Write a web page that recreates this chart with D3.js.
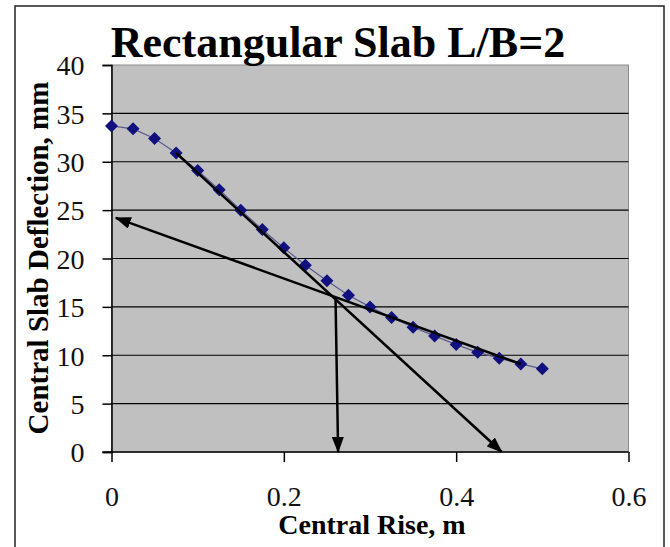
<!DOCTYPE html>
<html>
<head>
<meta charset="utf-8">
<script src="https://cdn.jsdelivr.net/npm/d3@7"></script>
<style>
  body { margin: 0; background: #fff; }
  svg { display: block; }
  text { font-family: "Liberation Serif", "Times New Roman", serif; }
</style>
</head>
<body>
<div id="chart"></div>
<script>
// Central rise (m) and central slab deflection (mm)
var rise = [0, 0.025, 0.05, 0.075, 0.1, 0.125, 0.15, 0.175, 0.2, 0.225, 0.25,
            0.275, 0.3, 0.325, 0.35, 0.375, 0.4, 0.425, 0.45, 0.475, 0.5];
var deflection = [33.7, 33.4, 32.4, 30.9, 29.1, 27.1, 25.0, 23.0, 21.1, 19.3, 17.7,
                  16.2, 15.0, 13.9, 12.9, 12.0, 11.1, 10.3, 9.7, 9.1, 8.6];

// Tangent construction lines drawn on the chart (in data units)
var tangentSteep = [[0.075, 30.9], [0.453, 0]];
var tangentFlat = [[0.475, 9.1], [0.005, 24.2]];
var dropLine = [[0.26, 15.9], [0.263, 0]];

var xTicks = [0, 0.2, 0.4, 0.6];
var yTicks = [0, 5, 10, 15, 20, 25, 30, 35, 40];

var W = 670, H = 547;
var svg = d3.select("#chart").append("svg")
    .attr("width", W)
    .attr("height", H);

var x = d3.scaleLinear().domain([0, 0.6]).range([111.5, 628.5]);
var y = d3.scaleLinear().domain([0, 40]).range([452, 65]);

//Arrowhead marker
svg.append("defs").append("marker")
    .attr("id", "arrow")
    .attr("markerUnits", "userSpaceOnUse")
    .attr("viewBox", "0 0 16 12")
    .attr("refX", 15)
    .attr("refY", 6)
    .attr("markerWidth", 16)
    .attr("markerHeight", 12)
    .attr("orient", "auto")
    .append("path")
    .attr("d", "M0,0 L16,6 L0,12 Z")
    .attr("fill", "#000");

//Outer frame
svg.append("rect")
    .attr("x", 15).attr("y", 6)
    .attr("width", 649).attr("height", 570)
    .attr("fill", "none")
    .attr("stroke", "#222")
    .attr("stroke-width", 1.5);

//Plot area
svg.append("rect")
    .attr("x", x(0)).attr("y", y(40))
    .attr("width", x(0.6) - x(0)).attr("height", y(0) - y(40))
    .attr("fill", "#c0c0c0")
    .attr("stroke", "#8c8c8c")
    .attr("stroke-width", 1);

//Gridlines
svg.append("g")
    .selectAll("line")
    .data(yTicks.filter(function (d) { return d > 0 && d < 40; }))
    .enter().append("line")
    .attr("x1", x(0)).attr("x2", x(0.6))
    .attr("y1", function (d) { return y(d); })
    .attr("y2", function (d) { return y(d); })
    .attr("stroke", "#000")
    .attr("stroke-width", 1.2);

//Axes
var yAxis = svg.append("g")
    .attr("transform", "translate(" + x(0) + ",0)")
    .call(d3.axisLeft(y).tickValues(yTicks).tickSize(9).tickPadding(18)
        .tickFormat(d3.format("d")));
var xAxis = svg.append("g")
    .attr("transform", "translate(0," + y(0) + ")")
    .call(d3.axisBottom(x).tickValues(xTicks).tickSize(10).tickPadding(24)
        .tickFormat(function (d) { return d === 0 ? "0" : d3.format(".1f")(d); }));

[yAxis, xAxis].forEach(function (g) {
    g.select(".domain").attr("stroke", "#000").attr("stroke-width", 1.5);
    g.selectAll(".tick line").attr("stroke", "#000").attr("stroke-width", 1.5);
    g.selectAll(".tick text")
        .attr("fill", "#111")
        .style("font-family", "'Liberation Serif', serif")
        .style("font-size", "28px");
});
yAxis.selectAll(".tick text").attr("dy", "0.35em");
xAxis.select(".domain").attr("d", "M" + (x(0) - 9) + ",0H" + x(0.6));

//Data line and markers
var pts = rise.map(function (r, i) { return [r, deflection[i]]; });
svg.append("path")
    .datum(pts)
    .attr("fill", "none")
    .attr("stroke", "#5a5a8c")
    .attr("stroke-width", 1.2)
    .attr("d", d3.line()
        .x(function (d) { return x(d[0]); })
        .y(function (d) { return y(d[1]); }));

svg.append("g")
    .selectAll("path")
    .data(pts)
    .enter().append("path")
    .attr("transform", function (d) { return "translate(" + x(d[0]) + "," + y(d[1]) + ")"; })
    .attr("d", "M0,-6.5 L6.5,0 L0,6.5 L-6.5,0 Z")
    .attr("fill", "#10107e");

//Tangent lines with arrows
var seg = d3.line()
    .x(function (d) { return x(d[0]); })
    .y(function (d) { return y(d[1]); });
[tangentSteep, tangentFlat, dropLine].forEach(function (l) {
    svg.append("path")
        .attr("d", seg(l))
        .attr("stroke", "#000")
        .attr("stroke-width", 2.5)
        .attr("fill", "none")
        .attr("marker-end", "url(#arrow)");
});

//Titles
svg.append("text")
    .attr("x", 338).attr("y", 57)
    .attr("text-anchor", "middle")
    .style("font-size", "44px")
    .style("font-weight", "bold")
    .text("Rectangular Slab L/B=2");

svg.append("text")
    .attr("x", 372).attr("y", 534)
    .attr("text-anchor", "middle")
    .style("font-size", "28px")
    .style("font-weight", "bold")
    .text("Central Rise, m");

svg.append("text")
    .attr("transform", "translate(48,258) rotate(-90)")
    .attr("text-anchor", "middle")
    .style("font-size", "29px")
    .style("font-weight", "bold")
    .text("Central Slab Deflection, mm");
</script>
</body>
</html>
